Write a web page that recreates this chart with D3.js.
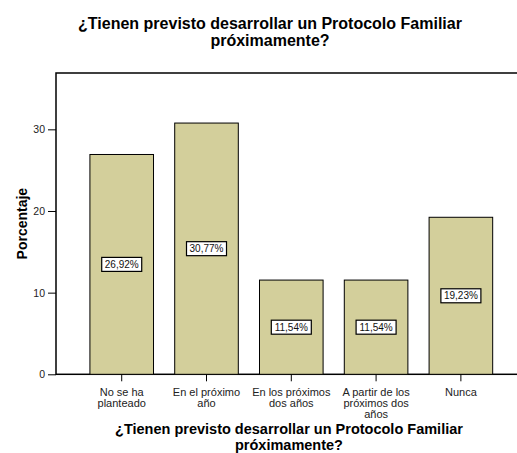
<!DOCTYPE html>
<html><head><meta charset="utf-8">
<script src="https://cdn.jsdelivr.net/npm/d3@7"></script>
<style>
html,body{margin:0;padding:0;background:#fff;}
svg{display:block;font-family:Arial,"Liberation Sans",sans-serif;}
</style></head>
<body>
<svg id="chart" width="517" height="453"></svg>
<script>
const categories = [["No se ha","planteado"],["En el próximo","año"],["En los próximos","dos años"],["A partir de los","próximos dos","años"],["Nunca"]];
const values = [26.92, 30.77, 11.54, 11.54, 19.23];
const valueLabels = ["26,92%","30,77%","11,54%","11,54%","19,23%"];
const yTicks = [0, 10, 20, 30];
const titleLines = ["¿Tienen previsto desarrollar un Protocolo Familiar","próximamente?"];
const yTitle = "Porcentaje";

const svg = d3.select("#chart");
const pLeft = 56, pRight = 526.6, pTop = 73, pBottom = 374.3;

const x = d3.scaleBand().domain(d3.range(values.length)).range([pLeft, pRight])
  .paddingInner(0.25).paddingOuter(0.4);
const y = d3.scaleLinear().domain([0, 36.9]).range([pBottom, pTop]);

// frame
svg.append("rect").attr("x", pLeft).attr("y", pTop).attr("width", pRight-pLeft).attr("height", pBottom-pTop)
  .attr("fill","none").attr("stroke","#000").attr("stroke-width",1.5);

// bars
svg.selectAll("rect.bar").data(values).join("rect").attr("class","bar")
  .attr("x",(d,i)=>x(i)).attr("width",x.bandwidth())
  .attr("y",d=>y(d)).attr("height",d=>pBottom-y(d))
  .attr("fill","#d3cf9b").attr("stroke","#000").attr("stroke-width",1);

// value label boxes
const lab = svg.selectAll("g.lab").data(values).join("g").attr("class","lab")
  .attr("transform",(d,i)=>`translate(${x(i)+x.bandwidth()/2},${(y(d)+pBottom)/2})`);
lab.append("rect").attr("x",-20).attr("y",-7).attr("width",40).attr("height",14)
  .attr("fill","#fff").attr("stroke","#000").attr("stroke-width",1.2);
lab.append("text").attr("text-anchor","middle").attr("dy","3.6").attr("font-size",10).attr("fill","#111")
  .text((d,i)=>valueLabels[i]);

// y axis
const ya = svg.append("g").attr("transform",`translate(${pLeft},0)`)
  .call(d3.axisLeft(y).tickValues(yTicks).tickSize(8).tickPadding(3).tickFormat(d3.format("d")));
ya.select(".domain").remove();
ya.selectAll("line").attr("stroke","#000").attr("stroke-width",1);
ya.selectAll("text").attr("font-size",10.5).attr("fill","#222").attr("font-family","Arial, 'Liberation Sans', sans-serif");

// x axis
const xa = svg.append("g").attr("transform",`translate(0,${pBottom})`)
  .call(d3.axisBottom(x).tickSize(7).tickFormat(""));
xa.select(".domain").remove();
xa.selectAll("line").attr("stroke","#000").attr("stroke-width",1);

// category labels
categories.forEach((lines,i)=>{
  const cx = x(i)+x.bandwidth()/2;
  const t = svg.append("text").attr("text-anchor","middle").attr("font-size",11).attr("fill","#222");
  lines.forEach((l,j)=>t.append("tspan").attr("x", cx).attr("y", 395.5+j*11).text(l));
});

// titles
titleLines.forEach((l,j)=>svg.append("text").attr("text-anchor","middle").attr("font-size",16)
  .attr("font-weight","bold").attr("fill","#000").attr("x",270).attr("y",29+j*16.5).text(l));

titleLines.forEach((l,j)=>svg.append("text").attr("text-anchor","middle").attr("font-size",14.5)
  .attr("font-weight","bold").attr("fill","#000").attr("x",289).attr("y",433.8+j*16.2).text(l));

svg.append("text").attr("transform",`translate(26.7,${(pTop+pBottom)/2}) rotate(-90)`)
  .attr("text-anchor","middle").attr("font-size",14).attr("font-weight","bold").attr("fill","#000").text(yTitle);
</script>
</body></html>
